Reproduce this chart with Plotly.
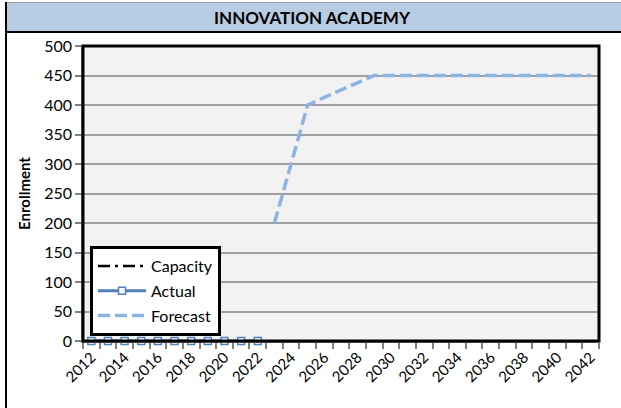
import plotly.graph_objects as go

# Enrollment history and projection, 2012-2042
years = list(range(2012, 2043))
actual_years = list(range(2012, 2023))
actual = [0, 0, 0, 0, 0, 0, 0, 0, 0, 0, 0]
forecast_years = list(range(2023, 2043))
forecast = [200, 300, 400, 413, 425, 438, 450, 450, 450, 450,
            450, 450, 450, 450, 450, 450, 450, 450, 450, 450]
capacity = [None] * len(years)
tick_years = list(range(2012, 2043, 2))
y_ticks = list(range(0, 501, 50))

FONT = "Lato, Carlito, Calibri, sans-serif"

fig = go.Figure()

fig.add_trace(go.Scatter(
    x=years, y=capacity, name="Capacity", mode="lines", legendgroup="c",
    line=dict(color="black", width=2.5, dash="12px,5px,3px,5px"),
))
fig.add_trace(go.Scatter(
    x=actual_years, y=actual, name="Actual", mode="lines+markers",
    legendgroup="a",
    line=dict(color="#4f81bd", width=3),
    marker=dict(symbol="square", size=7, color="white",
                line=dict(color="#4f81bd", width=1.5)),
    cliponaxis=False,
))
fig.add_trace(go.Scatter(
    x=forecast_years, y=forecast, name="Forecast", mode="lines",
    legendgroup="f",
    line=dict(color="#8db3e2", width=3.5, dash="12px,5px"),
))

# plot-area geometry in pixels, used to place paper-level decorations
W, H = 621, 408
L, R, T, B = 83, 22, 46, 67
pw, ph = W - L - R, H - T - B


def px_x(v):
    return (v - L) / pw


def px_y(v):
    return (H - B - v) / ph


shapes = [
    # title band
    dict(type="rect", xref="paper", yref="paper",
         x0=px_x(5), x1=px_x(625), y0=px_y(32), y1=px_y(3),
         fillcolor="#b8cce4", line=dict(width=0), layer="below"),
    dict(type="line", xref="paper", yref="paper",
         x0=px_x(5), x1=px_x(625), y0=px_y(2.5), y1=px_y(2.5),
         line=dict(color="#a0a0a0", width=1)),
    dict(type="line", xref="paper", yref="paper",
         x0=px_x(5), x1=px_x(625), y0=px_y(32), y1=px_y(32),
         line=dict(color="black", width=2)),
    # chart frame left edge
    dict(type="line", xref="paper", yref="paper",
         x0=px_x(6), x1=px_x(6), y0=px_y(2), y1=px_y(410),
         line=dict(color="black", width=2)),
    # plot-area frame
    dict(type="rect", xref="paper", yref="paper",
         x0=0, x1=1, y0=0, y1=1,
         line=dict(color="black", width=3), layer="above"),
]

fig.update_layout(
    width=W, height=H,
    margin=dict(l=L, r=R, t=T, b=B),
    paper_bgcolor="white",
    plot_bgcolor="#f2f2f2",
    font=dict(family=FONT, color="black"),
    shapes=shapes,
    annotations=[dict(
        text="<b>INNOVATION ACADEMY</b>", xref="paper", yref="paper",
        x=px_x(312), y=px_y(17.5), xanchor="center", yanchor="middle",
        showarrow=False, font=dict(family=FONT, size=17, color="black"),
    )],
    legend=dict(
        x=px_x(90), y=px_y(246), xanchor="left", yanchor="top",
        bgcolor="white", bordercolor="black", borderwidth=3,
        font=dict(family=FONT, size=16, color="black"),
        tracegroupgap=1, itemwidth=48,
    ),
    showlegend=True,
)

fig.update_xaxes(
    range=[2011.5, 2042.5],
    tickmode="array", tickvals=tick_years,
    ticktext=[str(y) for y in tick_years],
    tickangle=-45, ticks="",
    tickfont=dict(family=FONT, size=15, color="black"),
    showgrid=False, zeroline=False,
    showline=True, linecolor="#808080", linewidth=1.5,
    minor=dict(tickmode="array",
               tickvals=[y - 0.5 for y in years] + [years[-1] + 0.5],
               ticks="outside", ticklen=6, tickcolor="#808080",
               tickwidth=1.5, showgrid=False),
)
fig.update_yaxes(
    range=[0, 500],
    tickmode="array", tickvals=y_ticks,
    ticks="outside", ticklen=6, tickcolor="#808080", tickwidth=1.5,
    tickfont=dict(family=FONT, size=16, color="black"),
    showgrid=True, gridcolor="#a0a0a0", gridwidth=1.5,
    zeroline=False,
    showline=True, linecolor="#808080", linewidth=1.5,
    title=dict(text="<b>Enrollment</b>", standoff=10,
               font=dict(family=FONT, size=15, color="black")),
)

fig.write_html("out.html")
